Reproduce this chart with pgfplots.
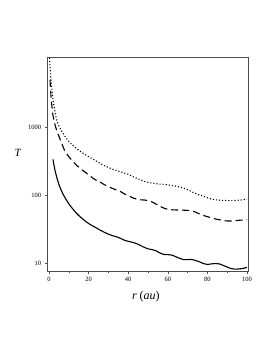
\documentclass[border=0pt]{standalone}
\usepackage{fontspec}
\setmainfont{Liberation Serif}
\usepackage{pgfplots}
\pgfplotsset{compat=1.18}
\begin{document}
\begin{tikzpicture}
\begin{axis}[
  scale only axis, width=200.3bp, height=213.7bp,
  xmin=-0.66, xmax=100.5, ymode=log, ymin=7.7, ymax=10700,
  axis line style={black!70, line width=0.6bp},
  xtick={0,20,...,100}, minor xtick={10,30,...,90},
  ytick={10,100,1000}, yticklabels={10,100,1000}, yminorticks=false,
  tick align=outside, major tick length=3bp, minor tick length=2bp,
  xtick pos=bottom, ytick pos=left,
  tick style={black!70, line width=0.5bp},
  ticklabel style={font=\fontsize{6.5bp}{7bp}\selectfont},
  /pgf/number format/assume math mode=true,
  xlabel={\textit{r} (\textit{au})},
  ylabel={\textit{T}},
  every axis x label/.style={at={(rel axis cs:0.49,0)}, anchor=center, yshift=-26bp, font=\fontsize{12bp}{14bp}\selectfont},
  every axis y label/.style={at={(rel axis cs:0,0.552)}, anchor=center, xshift=-29.7bp, font=\fontsize{11bp}{13bp}\selectfont},
  clip=true,
]
% solid
\addplot[black, line width=1.1bp, smooth] coordinates {
(2,337) (3,235) (4,180) (5,145) (6,122) (7,105) (8,93) (10,75) (12,63) (14,54) (16,47.5)
(18,42.5) (20,38.5) (22,35.5) (24,33) (26,30.5) (28,28.5) (30,26.8) (32,25.5) (34,24.6)
(36,23.3) (38,21.9) (40,21.0) (42,20.4) (44,19.6) (46,18.4) (48,17.2) (50,16.3) (52,15.9)
(54,15.3) (56,14.2) (58,13.5) (60,13.4) (62,13.2) (64,12.5) (66,11.8) (68,11.3) (70,11.3)
(72,11.4) (74,11.0) (76,10.5) (78,9.9) (80,9.6) (82,9.8) (84,9.9) (86,9.8) (88,9.3)
(90,8.8) (92,8.35) (94,8.2) (96,8.25) (98,8.4) (100,8.7)
};
% dashed
\addplot[black, line width=1.1bp, dash pattern=on 7bp off 4bp, smooth] coordinates {
(0.5,5000) (1,2900) (1.5,2000) (2,1500) (3,1100) (4,880) (5,740) (6,620) (8,450) (10,370)
(13,294) (16,245) (18,222) (20,200) (23,172) (26,155) (28,143) (30,134) (33,123) (36,114)
(38,105) (40,99) (43,90) (46,86) (48.5,85) (51,82) (53.5,76) (56,69) (58.5,64) (61,61.5)
(65,60.7) (70,60) (73,58) (75.5,54) (78,50.5) (80.5,48) (83,45.5) (85.5,44) (88,42.5)
(90.5,41.8) (93,42) (95,42.6) (97.5,43.2) (100,43.7)
};
% dotted
\addplot[black, line width=1.1bp, dash pattern=on 1.1bp off 2bp, smooth] coordinates {
(0.3,10500) (0.5,8000) (1,5000) (1.5,3500) (2,2600) (3,1700) (4,1250) (5,1050) (6,920)
(8,740) (10,620) (13,510) (16,440) (18,400) (20,370) (23,330) (26,292) (28,272) (30,257)
(33,236) (36,222) (38,212) (40,204) (43,184) (46,170) (48.5,159) (51,153) (53.5,149)
(56,146) (58.5,144) (61,141) (63.5,137) (66,132) (68.5,126) (71,117) (73.5,108) (76,101)
(79,94.5) (81.5,89) (84,86) (86.5,84.5) (89,84) (91.5,83.5) (94,84) (96.5,85) (99,87) (100,87.5)
};
\end{axis}
\path (current axis.south west) ++(-47.7bp,-82bp);
\path (current axis.north east) ++(25bp,57.3bp);
\end{tikzpicture}
\end{document}
